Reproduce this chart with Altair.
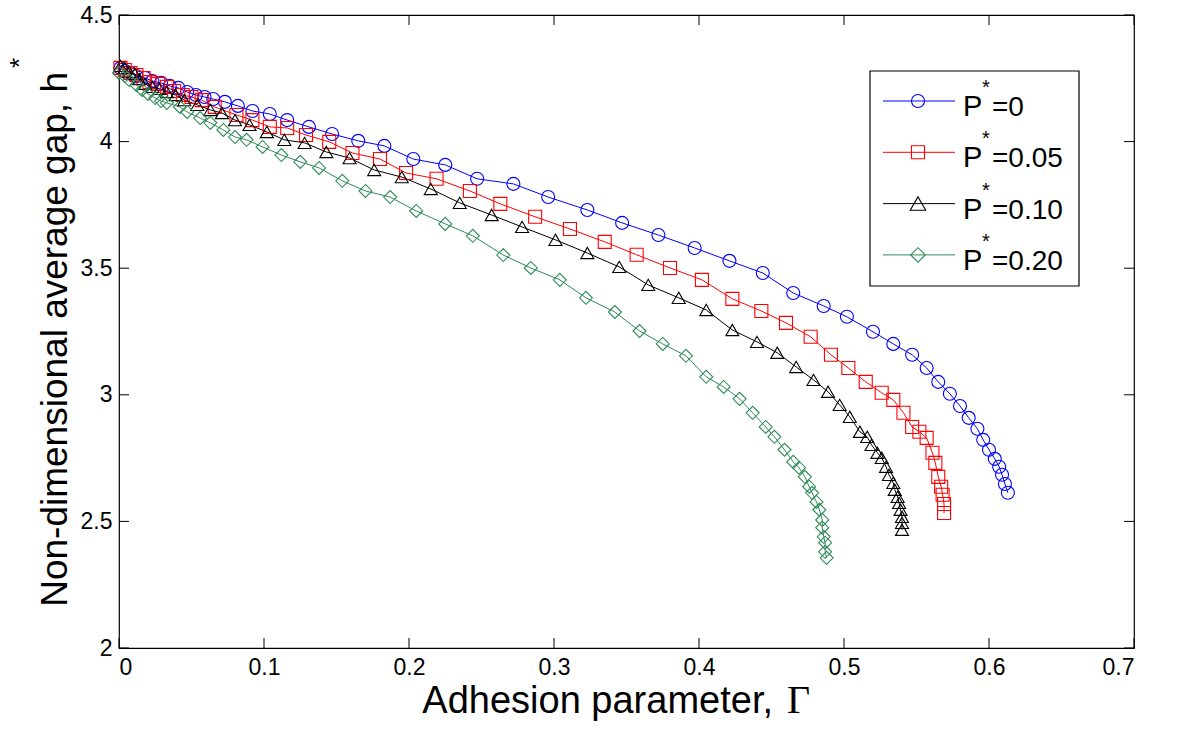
import altair as alt
import pandas as pd

# ---- data ----
gamma_p000 = [0.001, 0.004, 0.008, 0.012, 0.018, 0.023, 0.029, 0.035, 0.041, 0.047,
              0.053, 0.059, 0.065, 0.073, 0.082, 0.092, 0.104, 0.116, 0.131, 0.147,
              0.165, 0.183, 0.203, 0.225, 0.247, 0.272, 0.296, 0.323, 0.347, 0.372,
              0.397, 0.421, 0.444, 0.465, 0.486, 0.502, 0.520, 0.534, 0.547, 0.557,
              0.565, 0.573, 0.580, 0.586, 0.592, 0.596, 0.600, 0.604, 0.607, 0.609,
              0.611, 0.613]
h_p000 = [4.291, 4.279, 4.271, 4.259, 4.251, 4.239, 4.232, 4.220, 4.212, 4.196,
          4.184, 4.176, 4.168, 4.157, 4.141, 4.121, 4.109, 4.085, 4.058, 4.030,
          4.003, 3.983, 3.931, 3.908, 3.853, 3.833, 3.781, 3.730, 3.679, 3.631,
          3.580, 3.529, 3.481, 3.402, 3.351, 3.308, 3.249, 3.201, 3.158, 3.106,
          3.051, 3.004, 2.956, 2.909, 2.866, 2.822, 2.783, 2.747, 2.716, 2.684,
          2.648, 2.613]

gamma_p005 = [0.001, 0.004, 0.008, 0.012, 0.017, 0.021, 0.027, 0.033, 0.038, 0.044,
              0.050, 0.057, 0.066, 0.081, 0.092, 0.104, 0.116, 0.129, 0.145, 0.161,
              0.180, 0.198, 0.219, 0.242, 0.263, 0.287, 0.311, 0.335, 0.357, 0.380,
              0.402, 0.423, 0.443, 0.460, 0.477, 0.491, 0.503, 0.515, 0.526, 0.534,
              0.541, 0.547, 0.552, 0.557, 0.561, 0.563, 0.565, 0.567, 0.568, 0.569,
              0.569]
h_p005 = [4.291, 4.283, 4.271, 4.263, 4.251, 4.235, 4.228, 4.216, 4.200, 4.184,
          4.176, 4.164, 4.137, 4.105, 4.085, 4.058, 4.054, 4.026, 3.999, 3.955,
          3.931, 3.876, 3.853, 3.805, 3.754, 3.703, 3.655, 3.604, 3.553, 3.501,
          3.454, 3.379, 3.331, 3.284, 3.229, 3.158, 3.106, 3.051, 3.008, 2.980,
          2.929, 2.873, 2.854, 2.830, 2.771, 2.731, 2.676, 2.637, 2.605, 2.569,
          2.533]

gamma_p010 = [0.001, 0.004, 0.007, 0.011, 0.014, 0.018, 0.023, 0.028, 0.033, 0.039,
              0.045, 0.054, 0.063, 0.071, 0.080, 0.090, 0.102, 0.114, 0.128, 0.143,
              0.159, 0.176, 0.195, 0.215, 0.235, 0.257, 0.278, 0.301, 0.323, 0.345,
              0.365, 0.386, 0.405, 0.423, 0.440, 0.454, 0.467, 0.479, 0.489, 0.497,
              0.504, 0.511, 0.516, 0.519, 0.523, 0.526, 0.529, 0.531, 0.534, 0.535,
              0.537, 0.538, 0.539, 0.540, 0.540, 0.540]
h_p010 = [4.299, 4.291, 4.275, 4.267, 4.247, 4.228, 4.216, 4.208, 4.196, 4.184,
          4.164, 4.145, 4.125, 4.113, 4.085, 4.066, 4.038, 4.007, 3.995, 3.959,
          3.935, 3.888, 3.860, 3.813, 3.758, 3.710, 3.663, 3.612, 3.560, 3.505,
          3.434, 3.383, 3.335, 3.256, 3.209, 3.166, 3.110, 3.059, 3.012, 2.960,
          2.913, 2.854, 2.834, 2.802, 2.771, 2.751, 2.716, 2.684, 2.652, 2.625,
          2.597, 2.573, 2.546, 2.518, 2.494, 2.467]

gamma_p020 = [0.000, 0.004, 0.007, 0.012, 0.016, 0.020, 0.025, 0.029, 0.033, 0.042,
              0.047, 0.056, 0.063, 0.072, 0.080, 0.088, 0.099, 0.112, 0.125, 0.138,
              0.154, 0.170, 0.187, 0.205, 0.225, 0.244, 0.265, 0.284, 0.304, 0.322,
              0.342, 0.359, 0.375, 0.391, 0.405, 0.417, 0.428, 0.437, 0.446, 0.452,
              0.459, 0.465, 0.469, 0.473, 0.476, 0.478, 0.481, 0.483, 0.485, 0.485,
              0.486, 0.487, 0.487, 0.488]
h_p020 = [4.271, 4.259, 4.243, 4.224, 4.204, 4.188, 4.172, 4.160, 4.153, 4.137,
          4.117, 4.093, 4.074, 4.046, 4.018, 4.007, 3.979, 3.947, 3.920, 3.896,
          3.845, 3.805, 3.781, 3.726, 3.675, 3.628, 3.552, 3.501, 3.454, 3.383,
          3.327, 3.252, 3.201, 3.154, 3.071, 3.031, 2.984, 2.929, 2.873, 2.834,
          2.783, 2.735, 2.712, 2.676, 2.637, 2.613, 2.577, 2.546, 2.506, 2.475,
          2.439, 2.416, 2.380, 2.356]

series_names = ["P*=0", "P*=0.05", "P*=0.10", "P*=0.20"]
legend_values = ["=0", "=0.05", "=0.10", "=0.20"]
series_colors = ["#0000FF", "#FF0000", "#000000", "#2E8B57"]
series_shapes = ["circle", "square", "triangle-up", "diamond"]
series_sizes = [169, 169, 240, 210]

x_ticks = [0, 0.1, 0.2, 0.3, 0.4, 0.5, 0.6, 0.7]
y_ticks = [2, 2.5, 3, 3.5, 4, 4.5]

# ---- build table ----
rows = []
for si, (name, gs, hs) in enumerate(zip(series_names,
                                        [gamma_p000, gamma_p005, gamma_p010, gamma_p020],
                                        [h_p000, h_p005, h_p010, h_p020])):
    for j, (g, h) in enumerate(zip(gs, hs)):
        rows.append({"series": name, "gamma": g, "h": h, "idx": j, "sidx": si})
df = pd.DataFrame(rows)

W, H = 1015, 633
SANS = "Liberation Sans, Arial, sans-serif"

xscale = alt.Scale(domain=[0, 0.7], nice=False, zero=False)
yscale = alt.Scale(domain=[2, 4.5], nice=False, zero=False)
color = alt.Color("series:N", scale=alt.Scale(domain=series_names, range=series_colors), legend=None)
shape = alt.Shape("series:N", scale=alt.Scale(domain=series_names, range=series_shapes), legend=None)
size = alt.Size("series:N", scale=alt.Scale(domain=series_names, range=series_sizes), legend=None)

xaxis = alt.Axis(values=x_ticks, format="~g", title=None, grid=False, domain=False,
                 ticks=False, tickSize=0, labelFont=SANS, labelFontSize=23,
                 labelColor="black", labelPadding=8)
yaxis = alt.Axis(values=y_ticks, format="~g", title=None, grid=False, domain=False,
                 ticks=False, tickSize=0, labelFont=SANS, labelFontSize=23,
                 labelColor="black", labelPadding=7)

base = alt.Chart(df)
lines = base.mark_line(strokeWidth=1).encode(
    x=alt.X("gamma:Q", scale=xscale, axis=xaxis),
    y=alt.Y("h:Q", scale=yscale, axis=yaxis),
    color=color,
    detail="series:N",
    order="idx:Q",
)
points = base.mark_point(filled=False, strokeWidth=1.1, opacity=1).encode(
    x=alt.X("gamma:Q", scale=xscale, axis=xaxis),
    y=alt.Y("h:Q", scale=yscale, axis=yaxis),
    color=color,
    shape=shape,
    size=size,
)

xt = pd.DataFrame({"t": x_ticks})
yt = pd.DataFrame({"t": y_ticks})
tick_layers = [
    alt.Chart(xt).mark_rule(color="black", strokeWidth=1).encode(
        x=alt.X("t:Q", scale=xscale, axis=xaxis), y=alt.value(H), y2=alt.value(H - 10)),
    alt.Chart(xt).mark_rule(color="black", strokeWidth=1).encode(
        x=alt.X("t:Q", scale=xscale, axis=xaxis), y=alt.value(0), y2=alt.value(10)),
    alt.Chart(yt).mark_rule(color="black", strokeWidth=1).encode(
        y=alt.Y("t:Q", scale=yscale, axis=yaxis), x=alt.value(0), x2=alt.value(10)),
    alt.Chart(yt).mark_rule(color="black", strokeWidth=1).encode(
        y=alt.Y("t:Q", scale=yscale, axis=yaxis), x=alt.value(W), x2=alt.value(W - 10)),
]

one = pd.DataFrame({"a": [0]})

# axis titles
x_title = alt.Chart(one).mark_text(align="right", baseline="alphabetic", font=SANS,
                                    fontSize=38, color="black").encode(
    x=alt.value(654), y=alt.value(698), text=alt.value("Adhesion parameter,"))
x_title_g = alt.Chart(one).mark_text(align="left", baseline="alphabetic",
                                      font="Liberation Serif, serif", fontSize=40,
                                      color="black").encode(
    x=alt.value(668), y=alt.value(698), text=alt.value("Γ"))
y_title = alt.Chart(one).mark_text(align="right", baseline="alphabetic", angle=270,
                                    font=SANS, fontSize=37, color="black").encode(
    x=alt.value(-52), y=alt.value(57), text=alt.value("Non-dimensional average gap, h"))
y_title_star = alt.Chart(one).mark_text(align="center", baseline="middle", angle=270,
                                         font=SANS, fontSize=26, color="black").encode(
    x=alt.value(-99), y=alt.value(48), text=alt.value("*"))

# legend (drawn by hand, MATLAB-style)
legend_layers = [
    alt.Chart(one).mark_rect(fill="white", stroke="black", strokeWidth=1.2).encode(
        x=alt.value(751), x2=alt.value(960), y=alt.value(56), y2=alt.value(271))
]
for i, (name, val, col, shp, sz) in enumerate(zip(series_names, legend_values,
                                                   series_colors, series_shapes, series_sizes)):
    cy = 86 + 51.3 * i
    legend_layers += [
        alt.Chart(one).mark_rule(color=col, strokeWidth=1).encode(
            x=alt.value(764), x2=alt.value(836), y=alt.value(cy)),
        alt.Chart(one).mark_point(filled=False, color=col, shape=shp, size=sz,
                                  strokeWidth=1.1, opacity=1).encode(
            x=alt.value(799), y=alt.value(cy)),
        alt.Chart(one).mark_text(align="left", baseline="alphabetic", font=SANS,
                                 fontSize=29, color="black").encode(
            x=alt.value(844), y=alt.value(cy + 15), text=alt.value("P")),
        alt.Chart(one).mark_text(align="center", baseline="middle", font=SANS,
                                 fontSize=20, color="black").encode(
            x=alt.value(867), y=alt.value(cy - 13), text=alt.value("*")),
        alt.Chart(one).mark_text(align="left", baseline="alphabetic", font=SANS,
                                 fontSize=28, color="black").encode(
            x=alt.value(873), y=alt.value(cy + 15), text=alt.value(val)),
    ]

chart = alt.layer(lines, points, *tick_layers, x_title, x_title_g, y_title, y_title_star,
                  *legend_layers).properties(
    width=W, height=H,
    autosize=alt.AutoSizeParams(type="none"),
    padding={"left": 119, "top": 15, "right": 44, "bottom": 81},
    background="white",
).configure_view(stroke="black", strokeWidth=1.2)

chart.save("out.html", embed_options={"renderer": "svg", "actions": False})
